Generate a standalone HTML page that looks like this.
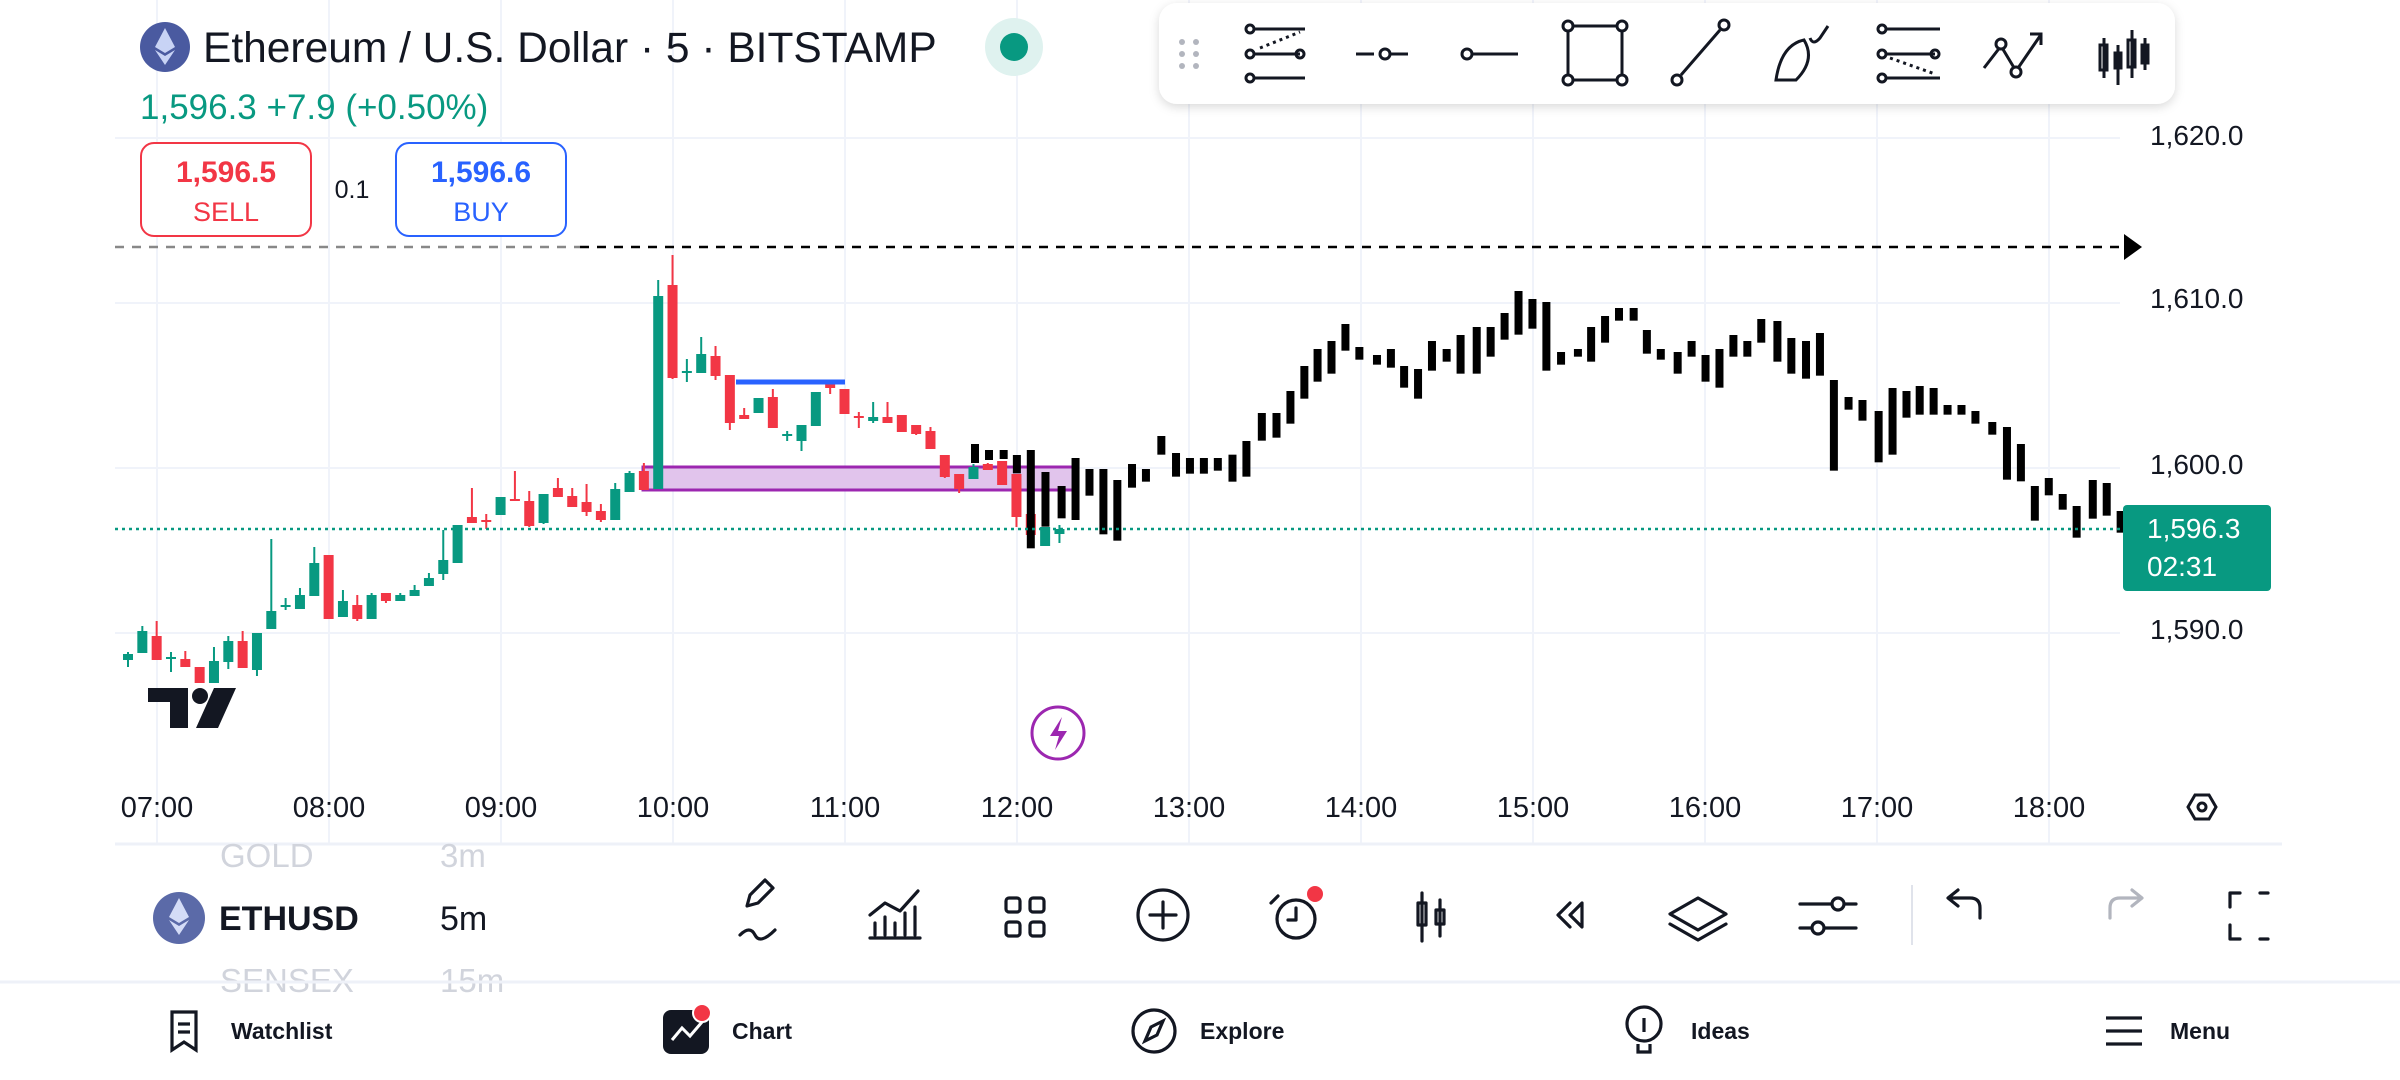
<!DOCTYPE html>
<html><head><meta charset="utf-8"><style>
html,body{margin:0;padding:0;background:#fff;width:2400px;height:1080px;overflow:hidden;font-family:"Liberation Sans",sans-serif;}
svg{position:absolute;left:0;top:0}
text{font-family:"Liberation Sans",sans-serif}
</style></head><body>
<svg id="s" width="2400" height="1080" viewBox="0 0 2400 1080" xmlns="http://www.w3.org/2000/svg">
<g id="grid" stroke="#f0f3fa" stroke-width="2"></g>
<g id="series"></g>
<g id="over"></g>
</svg>
<script>
const NS="http://www.w3.org/2000/svg";
function el(p,t,a,txt){const e=document.createElementNS(NS,t);for(const k in a)e.setAttribute(k,a[k]);if(txt!==undefined)e.textContent=txt;p.appendChild(e);return e;}
const S=document.getElementById('s'),G=document.getElementById('grid'),R=document.getElementById('series'),O=document.getElementById('over');
[138,303,468,633].forEach(y=>el(G,'line',{x1:115,x2:2120,y1:y,y2:y}));
for(let h=0;h<12;h++){const x=157+h*172;el(G,'line',{x1:x,x2:x,y1:0,y2:843});}
el(R,'rect',{x:643,y:467,width:431,height:23,fill:'#e1c4ec',stroke:'#9c27b0','stroke-width':3});
const bars=[[975,444,463],[989,450,460]];
const Z=[[5,570,597],[23,585,640],[42,570,865],[62,636,800],[84,678,775],[103,594,780],[122,627,707],[141,627,823],[160,660,842],[180,612,683],[199,627,665],[220,528,584],[240,579,650],[259,594,641],[278,594,641],[297,594,632],[317,584,665],[336,543,650],[357,459,542],[377,459,533],[396,393,491],[415,318,416],[433,267,365],[452,243,341],[471,192,272],[490,261,299],[514,285,314],[533,267,323],[551,318,383],[570,327,416],[589,243,332],[609,267,305],[628,225,341],[650,201,341],[669,201,290],[688,159,239],[707,93,224],[726,117,206],[745,126,332],[765,276,314],[788,267,290],[806,201,305],[825,168,248],[844,144,182],[864,144,182],[882,210,281],[901,267,299],[924,276,341],[943,243,290],[962,285,365],[981,267,383],[1000,225,290],[1019,243,290],[1038,177,248],[1060,183,305],[1079,234,341],[1099,243,356],[1118,219,347],[1137,360,632],[1157,411,449],[1176,420,482],[1198,453,607],[1217,384,584],[1236,393,473],[1254,378,464],[1273,384,464],[1292,435,464],[1311,435,464],[1330,453,491],[1353,486,524],[1373,501,659],[1392,552,664],[1411,678,782],[1430,654,706],[1449,702,749],[1468,738,833],[1490,660,776],[1509,669,767],[1528,753,818]];
Z.forEach(b=>bars.push([1000+b[0]/1.3635,260+b[1]/3,260+b[2]/3]));
const C=[['g',654,660,652,667],['g',631,653,626,653],['r',636,660,621,660],['g',657,659,652,672],['r',659,667,651,667],['r',667,683,667,683],['g',661,683,647,683],['g',641,662,636,669],['r',641,668,631,668],['g',633,670,633,676],['g',611,629,539,629],['g',605,607,598,610],['g',595,609,588,609],['g',563,596,547,596],['r',555,619,555,619],['g',601,617,590,617],['r',605,619,595,621],['g',595,619,593,619],['r',593,601,593,603],['g',595,601,593,601],['g',590,596,585,596],['g',578,586,573,586],['g',560,574,530,580],['g',525,563,525,563],['r',517,523,488,523],['r',520,522,514,529],['g',497,515,497,515],['r',499,501,471,501],['r',501,526,491,527],['g',494,523,494,524],['r',488,497,478,497],['r',496,507,488,507],['r',502,512,484,516],['r',511,520,504,522],['g',489,520,483,520],['g',473,492,471,492],['r',471,490,463,490],
['g',296,489,280,489],['r',285,378,255,379],['g',371,373,359,382],['g',354,373,337,373],['r',356,376,346,380],['r',375,423,375,430],['r',415,419,408,419],['g',398,413,398,413],['r',397,428,389,428],['g',434,436,431,441],['g',425,441,425,451],['g',392,426,392,426],['r',382,388,382,394],['r',389,414,389,414],['r',416,418,412,428],['g',417,421,402,423],['r',417,423,402,423],['r',415,432,415,432],['r',425,434,425,435],['r',431,449,427,449],['r',455,477,455,478],['r',474,489,474,493],['g',467,479,464,479],['r',464,470,463,470],['r',461,485,461,485],['r',474,517,474,527],['r',514,535,514,537],['g',527,546,527,546],['g',529,534,525,543]];
C.forEach((c,i)=>{const x=128+i*14.33,col=c[0]=='g'?'#089981':'#f23645';
el(R,'line',{x1:x,x2:x,y1:c[3],y2:c[4],stroke:col,'stroke-width':2});
el(R,'rect',{x:x-5,y:c[1],width:10,height:Math.max(2,c[2]-c[1]),fill:col});});
bars.forEach(b=>el(R,'rect',{x:b[0]-4,y:b[1],width:8,height:b[2]-b[1],fill:'#000'}));
el(R,'line',{x1:736,x2:845,y1:382,y2:382,stroke:'#2962ff','stroke-width':5});
el(O,'line',{x1:115,x2:580,y1:247,y2:247,stroke:'#888','stroke-width':2.5,'stroke-dasharray':'9 8'});
el(O,'line',{x1:580,x2:2122,y1:247,y2:247,stroke:'#000','stroke-width':2.5,'stroke-dasharray':'9 8'});
el(O,'path',{d:'M2124 234 L2142 247 L2124 260 Z',fill:'#000'});
el(O,'line',{x1:115,x2:2122,y1:529,y2:529,stroke:'#089981','stroke-width':2.5,'stroke-dasharray':'3 4'});
[['1,620.0',135],['1,610.0',298],['1,600.0',464],['1,590.0',629]].forEach(p=>el(O,'text',{x:2150,y:p[1]+10,'font-size':28,fill:'#131722'},p[0]));
el(O,'rect',{x:2123,y:505,width:148,height:86,rx:4,fill:'#089981'});
el(O,'text',{x:2147,y:538,'font-size':28,fill:'#fff'},'1,596.3');
el(O,'text',{x:2147,y:576,'font-size':28,fill:'#fff'},'02:31');
['07:00','08:00','09:00','10:00','11:00','12:00','13:00','14:00','15:00','16:00','17:00','18:00'].forEach((t,i)=>el(O,'text',{x:157+i*172,y:817,'font-size':29,fill:'#131722','text-anchor':'middle'},t));
el(O,'rect',{x:0,y:780,width:118,height:60,fill:'#fff'});
el(O,'path',{d:'M2188 807 l7 -12 h14 l7 12 l-7 12 h-14 z',fill:'none',stroke:'#131722','stroke-width':3});
el(O,'circle',{cx:2202,cy:807,r:4,fill:'none',stroke:'#131722','stroke-width':3});
el(O,'line',{x1:115,x2:2282,y1:844,y2:844,stroke:'#eef1f8','stroke-width':3});
</script>
<svg width="2400" height="1080" viewBox="0 0 2400 1080" xmlns="http://www.w3.org/2000/svg" style="pointer-events:none">
<g fill="#131722"><path d="M148 688 h40 v40 h-18 v-26 h-22 z"/><circle cx="200" cy="696" r="8"/><path d="M214 688 h22 l-18 40 h-22 z"/></g>
<circle cx="1058" cy="733" r="26" fill="#fff" stroke="#9c27b0" stroke-width="3"/>
<path d="M1062 717 l-12 19 h9 l-4 14 l12 -19 h-9 z" fill="#9c27b0"/>
<circle cx="165" cy="47" r="25" fill="#4a5aa0"/>
<path d="M165 28 l-10 19 l10 6 l10 -6 z M165 56 l-10 -6 l10 15 l10 -15 z" fill="#c8d3f5"/>
<text x="203" y="62" font-size="42.5" fill="#131722">Ethereum / U.S. Dollar · 5 · BITSTAMP</text>
<circle cx="1014" cy="47" r="29" fill="#dff2ef"/><circle cx="1014" cy="47" r="14" fill="#089981"/>
<text x="140" y="119" font-size="35" fill="#089981">1,596.3  +7.9 (+0.50%)</text>
<rect x="141" y="143" width="170" height="93" rx="13" fill="#fff" stroke="#f23645" stroke-width="2"/>
<text x="226" y="182" font-size="30" font-weight="bold" fill="#f23645" text-anchor="middle">1,596.5</text>
<text x="226" y="221" font-size="27" fill="#f23645" text-anchor="middle">SELL</text>
<text x="352" y="198" font-size="25" fill="#131722" text-anchor="middle">0.1</text>
<rect x="396" y="143" width="170" height="93" rx="13" fill="#fff" stroke="#2962ff" stroke-width="2"/>
<text x="481" y="182" font-size="30" font-weight="bold" fill="#2962ff" text-anchor="middle">1,596.6</text>
<text x="481" y="221" font-size="27" fill="#2962ff" text-anchor="middle">BUY</text>
<defs><filter id="sh" x="-5%" y="-30%" width="110%" height="170%"><feDropShadow dx="0" dy="3" stdDeviation="5" flood-color="#000" flood-opacity="0.15"/></filter></defs>
<rect x="1159" y="3" width="1016" height="101" rx="18" fill="#fff" filter="url(#sh)"/>
<g fill="#b2b5be"><circle cx="1182" cy="42" r="3"/><circle cx="1196" cy="42" r="3"/><circle cx="1182" cy="54" r="3"/><circle cx="1196" cy="54" r="3"/><circle cx="1182" cy="66" r="3"/><circle cx="1196" cy="66" r="3"/></g>
<g fill="none" stroke="#131722" stroke-width="3">
<circle cx="1250" cy="29" r="4"/><line x1="1254" y1="29" x2="1305" y2="29"/><circle cx="1250" cy="54" r="4"/><line x1="1254" y1="54" x2="1300" y2="54"/><circle cx="1300" cy="54" r="4"/><circle cx="1250" cy="78" r="4"/><line x1="1254" y1="78" x2="1305" y2="78"/><line x1="1260" y1="48" x2="1300" y2="32" stroke-dasharray="3 4"/>
<line x1="1356" y1="54" x2="1374" y2="54"/><circle cx="1385" cy="54" r="5"/><line x1="1390" y1="54" x2="1408" y2="54"/>
<circle cx="1467" cy="54" r="5"/><line x1="1472" y1="54" x2="1518" y2="54"/>
<rect x="1568" y="26" width="54" height="54"/><circle cx="1568" cy="26" r="5" fill="#fff"/><circle cx="1622" cy="26" r="5" fill="#fff"/><circle cx="1568" cy="80" r="5" fill="#fff"/><circle cx="1622" cy="80" r="5" fill="#fff"/>
<line x1="1681" y1="75" x2="1720" y2="30"/><circle cx="1677" cy="80" r="5" fill="#fff"/><circle cx="1724" cy="25" r="5" fill="#fff"/>
<path d="M1776 80 q5 -35 28 -40 q12 20 -8 40 z M1810 38 q3 8 10 0 l8 -12"/>
<circle cx="1882" cy="29" r="4"/><line x1="1886" y1="29" x2="1940" y2="29"/><circle cx="1882" cy="54" r="4"/><line x1="1886" y1="54" x2="1935" y2="54"/><circle cx="1935" cy="54" r="4"/><circle cx="1882" cy="78" r="4"/><line x1="1886" y1="78" x2="1940" y2="78"/><line x1="1890" y1="58" x2="1935" y2="74" stroke-dasharray="3 4"/>
<path d="M1984 68 l17 -22 l15 25 l24 -35 M2030 34 h11 v11"/><circle cx="2001" cy="44" r="5" fill="#fff"/><circle cx="2016" cy="72" r="5" fill="#fff"/>
<line x1="2104" y1="38" x2="2104" y2="78"/><rect x="2100" y="45" width="7" height="25"/><line x1="2118" y1="45" x2="2118" y2="85"/><rect x="2115" y="53" width="6" height="15"/><line x1="2132" y1="30" x2="2132" y2="78"/><rect x="2128" y="40" width="7" height="27"/><line x1="2145" y1="38" x2="2145" y2="70"/><rect x="2142" y="45" width="6" height="18"/>
</g>
<text x="220" y="867" font-size="33" fill="#d1d4dc">GOLD</text><text x="440" y="867" font-size="33" fill="#d1d4dc">3m</text>
<circle cx="179" cy="918" r="26" fill="#5b6aa8"/><path d="M179 898 l-10 19 l10 6 l10 -6 z M179 926 l-10 -6 l10 15 l10 -15 z" fill="#d4dcf7"/>
<text x="219" y="930" font-size="34" font-weight="bold" fill="#131722">ETHUSD</text>
<text x="440" y="930" font-size="34" fill="#131722">5m</text>
<text x="220" y="992" font-size="33" fill="#d1d4dc">SENSEX</text><text x="440" y="992" font-size="33" fill="#d1d4dc">15m</text>
<g fill="none" stroke="#131722" stroke-width="3.2" stroke-linecap="round" stroke-linejoin="round">
<path d="M750 895 l15 -15 l8 8 l-15 15 l-11 3 z M740 935 q10 -10 15 0 t20 -5"/>
<path d="M870 938 h50 M875 935 v-12 M885 935 v-18 M895 935 v-12 M905 935 v-22 M915 935 v-28 M870 915 l15 -12 l15 8 l18 -20"/>
<rect x="1006" y="898" width="14" height="14" rx="3"/><rect x="1030" y="898" width="14" height="14" rx="3"/><rect x="1006" y="922" width="14" height="14" rx="3"/><rect x="1030" y="922" width="14" height="14" rx="3"/>
<circle cx="1163" cy="915" r="25"/><path d="M1163 902 v26 M1150 915 h26"/>
<circle cx="1296" cy="919" r="19"/><path d="M1296 908 v12 h-8 M1278 896 l-7 7"/>
<path d="M1422 893 v48 M1418 903 h8 v22 h-8 z M1440 900 v36 M1436 910 h8 v14 h-8 z"/>
<path d="M1570 903 l-12 12 l12 12 M1582 903 l-12 12 l12 12 z"/>
<path d="M1698 898 l-28 16 l28 16 l28 -16 z M1670 924 l28 16 l28 -16"/>
<path d="M1800 904 h56 M1800 928 h56"/><circle cx="1838" cy="904" r="6" fill="#fff"/><circle cx="1818" cy="928" r="6" fill="#fff"/>
<path d="M1980 918 v-10 q0 -10 -10 -10 h-20 M1958 890 l-10 8 l10 8"/>
<path d="M2110 918 v-10 q0 -10 10 -10 h20 M2132 890 l10 8 l-10 8" stroke="#b2b5be"/>
<path d="M2240 893 h-10 v14 M2230 925 v14 h10 M2260 893 h8 M2260 939 h8"/>
</g>
<circle cx="1315" cy="894" r="8" fill="#f23645"/>
<line x1="1912" y1="885" x2="1912" y2="945" stroke="#e0e3eb" stroke-width="2"/>
<line x1="0" y1="982" x2="2400" y2="982" stroke="#eef1f8" stroke-width="3"/>
<g fill="none" stroke="#131722" stroke-width="3.2">
<path d="M172 1012 h24 v38 l-12 -8 l-12 8 z M178 1024 h12 M178 1032 h12"/>
<circle cx="1154" cy="1031" r="21"/><path d="M1163 1021 l-6 14 l-12 6 l6 -14 z"/>
<circle cx="1644" cy="1024" r="17"/><path d="M1638 1044 v8 h12 v-8 M1644 1018 v14"/>
<path d="M2106 1018 h36 M2106 1031 h36 M2106 1044 h36"/>
</g>
<rect x="663" y="1010" width="46" height="44" rx="8" fill="#131722"/>
<path d="M672 1040 l10 -12 l8 8 l12 -14" fill="none" stroke="#fff" stroke-width="3"/>
<circle cx="702" cy="1013" r="9" fill="#f23645" stroke="#fff" stroke-width="2"/>
<g font-size="23" fill="#131722" font-weight="bold">
<text x="231" y="1039">Watchlist</text><text x="732" y="1039">Chart</text><text x="1200" y="1039">Explore</text><text x="1691" y="1039">Ideas</text><text x="2170" y="1039">Menu</text>
</g>
</svg>
</body></html>
